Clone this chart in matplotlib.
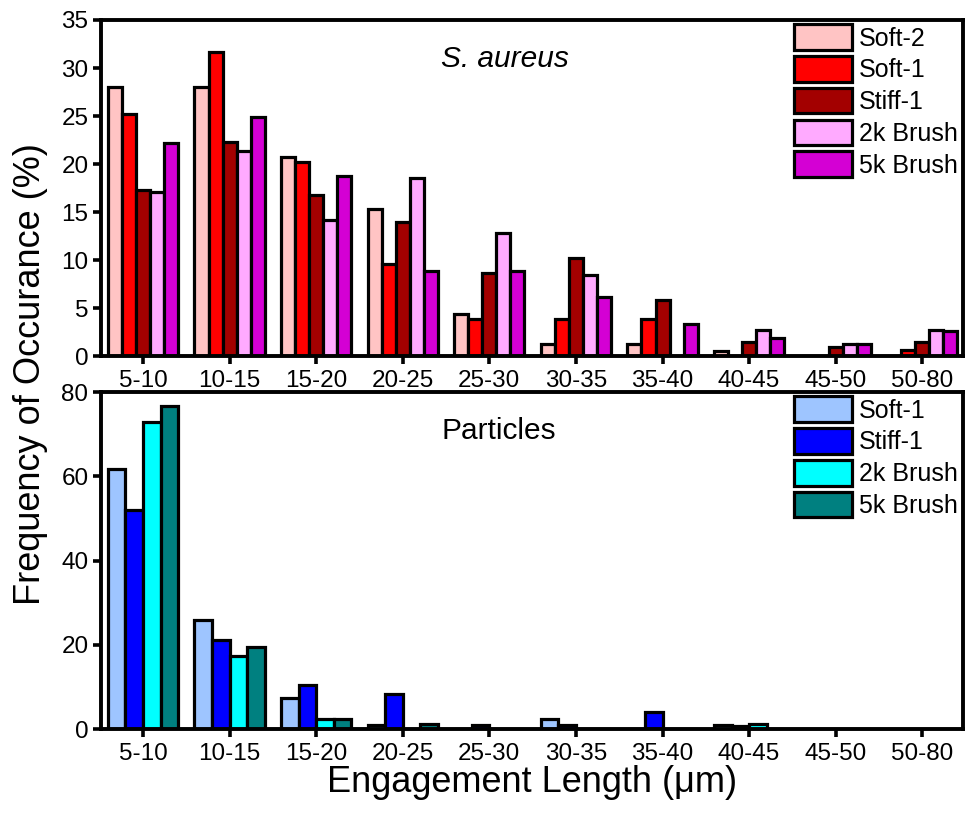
import numpy as np
import matplotlib
matplotlib.use('Agg')
import matplotlib.pyplot as plt

plt.rcParams['font.family'] = ['Liberation Sans', 'DejaVu Sans']

bins = ['5-10', '10-15', '15-20', '20-25', '25-30', '30-35', '35-40', '40-45', '45-50', '50-80']

# S. aureus engagement (%)
sa_names = ['Soft-2', 'Soft-1', 'Stiff-1', '2k Brush', '5k Brush']
sa_soft2 = [28.0, 28.0, 20.7, 15.3, 4.4, 1.2, 1.2, 0.5, 0.0, 0.0]
sa_soft1 = [25.2, 31.7, 20.2, 9.6, 3.9, 3.9, 3.9, 0.0, 0.0, 0.6]
sa_stiff1 = [17.3, 22.3, 16.8, 14.0, 8.6, 10.2, 5.8, 1.5, 0.9, 1.5]
sa_brush2k = [17.1, 21.4, 14.2, 18.5, 12.8, 8.4, 0.0, 2.7, 1.3, 2.7]
sa_brush5k = [22.2, 24.9, 18.7, 8.9, 8.9, 6.1, 3.3, 1.9, 1.2, 2.6]
sa_colors = ['#ffc4c4', '#ff0000', '#a30000', '#ffaaff', '#d400d4']

# particle engagement (%)
pt_names = ['Soft-1', 'Stiff-1', '2k Brush', '5k Brush']
pt_soft1 = [61.8, 25.8, 7.3, 1.0, 0.0, 2.3, 0.0, 0.9, 0.0, 0.0]
pt_stiff1 = [52.1, 21.2, 10.5, 8.3, 0.9, 0.9, 4.0, 0.8, 0.0, 0.0]
pt_brush2k = [73.0, 17.4, 2.4, 0.0, 0.0, 0.0, 0.0, 1.2, 0.0, 0.0]
pt_brush5k = [76.7, 19.4, 2.3, 1.1, 0.0, 0.0, 0.0, 0.0, 0.0, 0.0]
pt_colors = ['#9ec5ff', '#0000ff', '#00ffff', '#008080']

lw = 2.3
fig = plt.figure(figsize=(9.69, 8.13), dpi=100)
ax1 = fig.add_axes([0.1042, 0.5621, 0.8896, 0.4133])
ax2 = fig.add_axes([0.1042, 0.1033, 0.8896, 0.4145])

x = np.arange(len(bins))


def grouped(ax, series, names, colors):
    n = len(series)
    w = 0.81 / n
    for i, (vals, name, col) in enumerate(zip(series, names, colors)):
        ax.bar(x + (i - (n - 1) / 2) * w, vals, w, color=col, edgecolor='black',
               linewidth=lw, label=name, zorder=2)
    ax.set_xlim(-0.485, 9.47)
    ax.set_xticks(x)
    ax.set_xticklabels(bins)
    for s in ax.spines.values():
        s.set_linewidth(2.8)
    ax.tick_params(direction='out', length=6, width=2.6, labelsize=17.5, pad=3)
    ax.tick_params(axis='x', pad=4)
    leg = ax.legend(loc='upper left', bbox_to_anchor=(0.8045, 0.987), frameon=False,
                    fontsize=18, handlelength=2.3, handleheight=1.2,
                    labelspacing=0.22, handletextpad=0.28, borderpad=0,
                    borderaxespad=0)
    return leg


grouped(ax1, [sa_soft2, sa_soft1, sa_stiff1, sa_brush2k, sa_brush5k], sa_names, sa_colors)
ax1.set_ylim(0, 35)
ax1.set_yticks(range(0, 36, 5))
ax1.text(0.395, 0.885, 'S. aureus', transform=ax1.transAxes, fontsize=21.5,
         style='italic', va='center', ha='left')

grouped(ax2, [pt_soft1, pt_stiff1, pt_brush2k, pt_brush5k], pt_names, pt_colors)
ax2.set_ylim(0, 80)
ax2.set_yticks(range(0, 81, 20))
ax2.text(0.395, 0.885, 'Particles', transform=ax2.transAxes, fontsize=21.5,
         va='center', ha='left')
ax2.set_xlabel('Engagement Length (\u03bcm)', fontsize=26, labelpad=0)

fig.text(0.031, 0.54, 'Frequency of Occurance (%)', rotation=90, fontsize=26,
         ha='center', va='center')

fig.savefig('out.png', dpi=100)
